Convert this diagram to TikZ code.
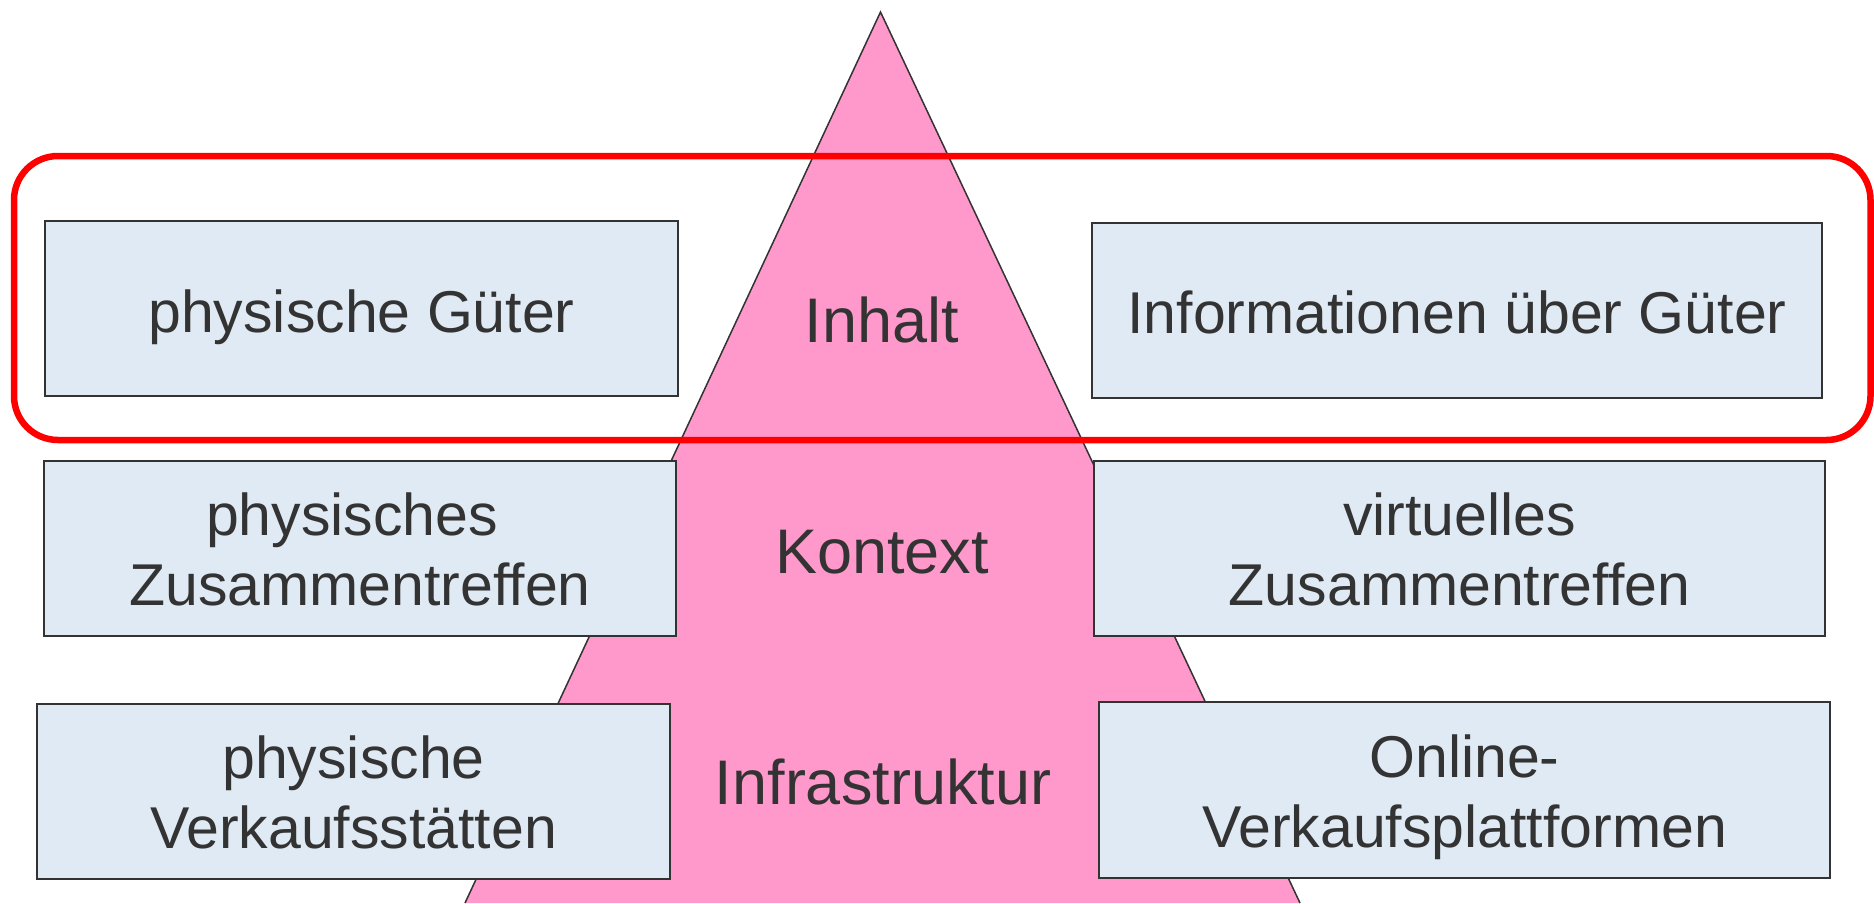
\documentclass[tikz,border=0pt]{standalone}
\usepackage{fontspec}
\setmainfont{Liberation Sans}
\definecolor{pyramid}{HTML}{FF99CC}
\definecolor{boxfill}{HTML}{E0EAF4}
\definecolor{ink}{HTML}{333333}
\tikzset{
  field/.style={draw=ink, line width=2pt, fill=boxfill, inner sep=0pt},
  lbl/.style={text=ink, font=\fontsize{59}{70}\selectfont, inner sep=0pt, anchor=base},
  tier/.style={text=ink, font=\fontsize{63}{70}\selectfont, inner sep=0pt, anchor=base},
  frame/.style={draw=red, line width=6.5pt, rounded corners=44pt},
}
\begin{document}
\begin{tikzpicture}[x=1pt, y=-1pt]
  \useasboundingbox (0,0) rectangle (1874,903);
  \fill[white] (0,0) rectangle (1874,903);

  % pyramid
  \coordinate (apex) at (880.5,12);
  \coordinate (bl) at (465,903);
  \coordinate (br) at (1300,903);
  \fill[pyramid] (apex) -- (bl) -- (br) -- cycle;
  \draw[ink, line width=1.5pt] (bl) -- (apex) -- (br);

  % highlight around the top row
  \draw[frame] (14,156) rectangle (1870.5,440);

  % boxes
  \node[field, minimum width=633pt, minimum height=175pt] (b1) at (361.5,308.5) {};
  \node[field, minimum width=730pt, minimum height=175pt] (b2) at (1457,310.5) {};
  \node[field, minimum width=632pt, minimum height=175pt] (b3) at (360,548.5) {};
  \node[field, minimum width=731pt, minimum height=175pt] (b4) at (1459.5,548.5) {};
  \node[field, minimum width=633pt, minimum height=175pt] (b5) at (353.5,791.5) {};
  \node[field, minimum width=731pt, minimum height=176pt] (b6) at (1464.5,790) {};

  % box texts
  \node[lbl] (t1) at (361.5,332) {physische Güter};
  \node[lbl] (t2) at (1457,333) {Informationen über Güter};
  \node[lbl] (t3a) at (352,535) {physisches};
  \node[lbl] (t3b) at (360,605) {Zusammentreffen};
  \node[lbl] (t4a) at (1459.5,535) {virtuelles};
  \node[lbl] (t4b) at (1459.5,605) {Zusammentreffen};
  \node[lbl] (t5a) at (353.5,778) {physische};
  \node[lbl] (t5b) at (353.5,848) {Verkaufsstätten};
  \node[lbl] (t6a) at (1464.5,777) {Online-};
  \node[lbl] (t6b) at (1464.5,847) {Verkaufsplattformen};

  % tier labels
  \node[tier] (inhalt) at (882,342) {Inhalt};
  \node[tier] (kontext) at (882,573) {Kontext};
  \node[tier] (infra) at (883,804) {Infrastruktur};
\end{tikzpicture}
\end{document}
